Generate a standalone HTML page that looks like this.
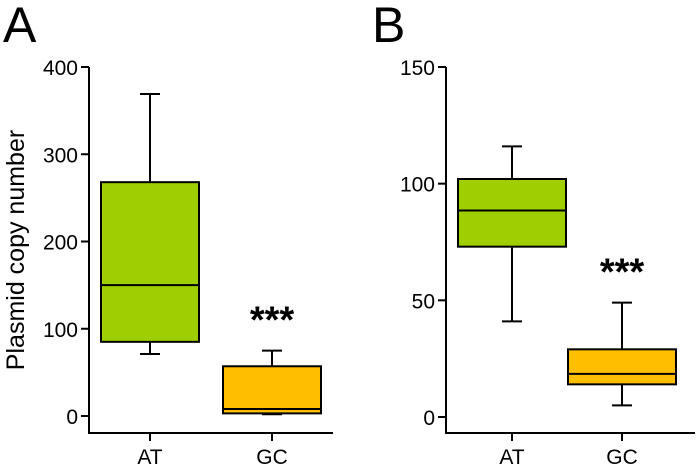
<!DOCTYPE html>
<html><head><meta charset="utf-8"><style>
body{margin:0;background:#fff}
svg{display:block;font-family:"Liberation Sans",Arial,sans-serif}
</style></head><body>
<svg id="chart" width="700" height="466" viewBox="0 0 700 466">
<text x="3" y="42" font-size="50">A</text>
<text x="372" y="42" font-size="50">B</text>
<text transform="translate(24,250) rotate(-90)" text-anchor="middle" font-size="25">Plasmid copy number</text>
</svg>
<script>
const categories = ["AT","GC"];
// panel A stats: [whiskerLow, q1, median, q3, whiskerHigh]
const panelAStats = [[71,85,150,268,369],[2,3,8,57,75]];
const panelATicks = [0,100,200,300,400];
// panel B stats
const panelBStats = [[41,73,88.5,102,116],[5,14,18.5,29,49]];
const panelBTicks = [0,50,100,150];
const colors = ["#9fcf00","#ffbf00"];
const svg = document.getElementById('chart');
const NS = 'http://www.w3.org/2000/svg';
function mk(tag, attrs, parent){const e=document.createElementNS(NS,tag);for(const k in attrs)e.setAttribute(k,attrs[k]);(parent||svg).appendChild(e);return e;}
function panel(cfg){
  const g = mk('g',{});
  
  
  const y = v => cfg.y0 - (v - 0) * (cfg.y0 - cfg.yTop) / cfg.max;
  const x = i => cfg.xs[i];
  const ax = mk('line',{x1:cfg.axX,x2:cfg.axX,y1:y(cfg.max),y2:434,stroke:'#000','stroke-width':2},g);
  
  
  cfg.ticks.forEach(t=>{
    mk('line',{x1:cfg.axX-8,x2:cfg.axX,y1:y(t),y2:y(t),stroke:'#000','stroke-width':2},g);
    const tl = mk('text',{x:cfg.axX-11,y:y(t)+8,'text-anchor':'end','font-size':21},g);
    tl.textContent = t;
    
    
  });
  const xa = mk('line',{x1:cfg.axX,x2:cfg.axR,y1:433,y2:433,stroke:'#000','stroke-width':2},g);
  
  
  categories.forEach((c,i)=>{
    mk('line',{x1:x(i),x2:x(i),y1:433,y2:441,stroke:'#000','stroke-width':2},g);
    const xl = mk('text',{x:x(i),y:464,'text-anchor':'middle','font-size':21},g);
    xl.textContent = c;
    
    
    const s = cfg.stats[i], hw = cfg.hw;
    const wk = mk('g',{},g);
    
    
    mk('line',{x1:x(i),x2:x(i),y1:y(s[0]),y2:y(s[4]),stroke:'#000','stroke-width':2},wk);
    mk('line',{x1:x(i)-10,x2:x(i)+10,y1:y(s[0]),y2:y(s[0]),stroke:'#000','stroke-width':2},wk);
    mk('line',{x1:x(i)-10,x2:x(i)+10,y1:y(s[4]),y2:y(s[4]),stroke:'#000','stroke-width':2},wk);
    const b = mk('rect',{x:x(i)-hw,y:y(s[3]),width:2*hw,height:y(s[1])-y(s[3]),fill:colors[i],stroke:'#000','stroke-width':2},g);
    
    
    const m = mk('line',{x1:x(i)-hw,x2:x(i)+hw,y1:y(s[2]),y2:y(s[2]),stroke:'#000','stroke-width':2},g);
    
    
  });
  const st = mk('text',{x:x(1),y:y(cfg.stats[1][4])-18,'text-anchor':'middle','font-size':38,'font-weight':'bold'},g);
  st.textContent = '***';
  
  
}
panel({name:'panel-a',stats:panelAStats,ticks:panelATicks,max:400,y0:416,yTop:67,axX:89,axR:333,xs:[150,272],hw:49});
panel({name:'panel-b',stats:panelBStats,ticks:panelBTicks,max:150,y0:417,yTop:67,axX:446,axR:695,xs:[512,622],hw:54});
</script>
</body></html>
